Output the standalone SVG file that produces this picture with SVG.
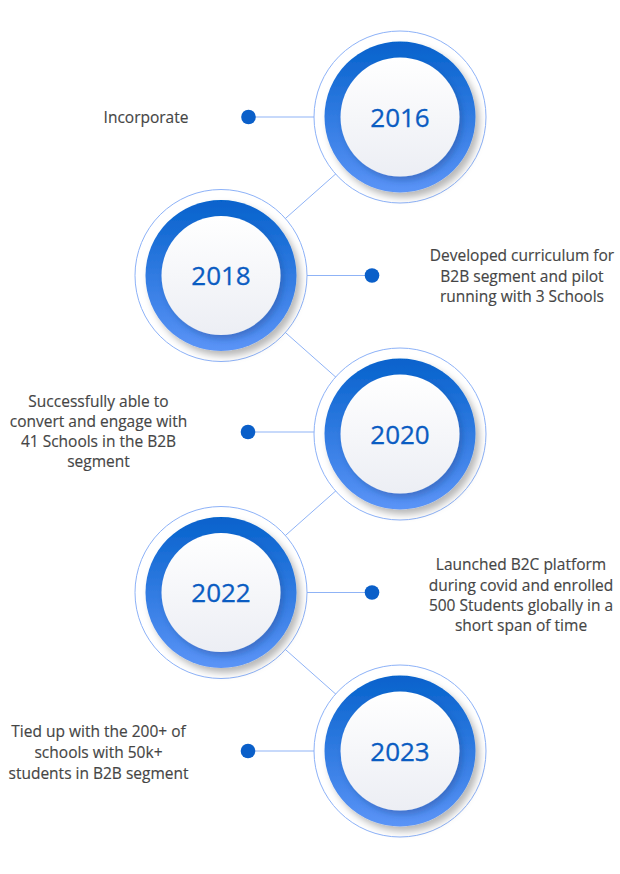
<svg xmlns="http://www.w3.org/2000/svg" width="620" height="874" viewBox="0 0 620 874">
<defs>
<linearGradient id="ring" x1="0" y1="0" x2="0" y2="1">
<stop offset="0" stop-color="#0662cc"/>
<stop offset="1" stop-color="#5b94f7"/>
</linearGradient>
<linearGradient id="face" x1="0" y1="0" x2="0" y2="1">
<stop offset="0" stop-color="#ffffff"/>
<stop offset="1" stop-color="#eceef4"/>
</linearGradient>
<filter id="sh" x="-20%" y="-20%" width="150%" height="150%">
<feDropShadow dx="4" dy="5" stdDeviation="3.5" flood-color="#000" flood-opacity="0.28"/>
</filter>
<filter id="sh2" x="-20%" y="-20%" width="150%" height="150%">
<feDropShadow dx="3" dy="4" stdDeviation="3" flood-color="#1a3a80" flood-opacity="0.35"/>
</filter>
</defs>
<style>
.con{stroke:#8fb3f6;stroke-width:1;fill:none}
.dot{fill:#0a5fc9}
.outer{fill:#fff;stroke:#8db2f8;stroke-width:1}
.ring{fill:url(#ring);filter:url(#sh)}
.face{fill:url(#face);filter:url(#sh2)}
.year{font-family:"Open Sans","Noto Sans",sans-serif;font-size:26px;fill:#0a5cc2;text-anchor:middle;stroke:#0a5cc2;stroke-width:0.3}
.desc{font-family:"Open Sans","Noto Sans",sans-serif;font-size:15.5px;fill:#454545;text-anchor:middle;stroke:#454545;stroke-width:0.15}
</style>
<rect width="620" height="874" fill="#fff"/>
<g id="connectors">
<line class="con" x1="400" y1="117" x2="221" y2="275.5"/>
<line class="con" x1="221" y1="275.5" x2="400" y2="434"/>
<line class="con" x1="400" y1="434" x2="221" y2="592.5"/>
<line class="con" x1="221" y1="592.5" x2="400" y2="751"/>
<line class="con" x1="248.5" y1="117" x2="400" y2="117"/>
<line class="con" x1="221" y1="275.5" x2="372" y2="275.5"/>
<line class="con" x1="248" y1="432" x2="400" y2="432"/>
<line class="con" x1="221" y1="592.5" x2="372" y2="592.5"/>
<line class="con" x1="248" y1="751" x2="400" y2="751"/>
</g>
<g id="n2016">
<circle class="outer" cx="400" cy="117" r="86"/>
<circle class="ring" cx="400" cy="117" r="75.5"/>
<circle class="face" cx="400" cy="117" r="59.5"/>
<text class="year" x="400" y="126.5">2016</text>
<circle class="dot" cx="248.5" cy="117" r="7.3"/>
<text class="desc" x="146" y="123">Incorporate</text>
</g>
<g id="n2018">
<circle class="outer" cx="221" cy="275.5" r="86"/>
<circle class="ring" cx="221" cy="275.5" r="75.5"/>
<circle class="face" cx="221" cy="275.5" r="59.5"/>
<text class="year" x="221" y="285">2018</text>
<circle class="dot" cx="372" cy="275.5" r="7.3"/>
<text class="desc" x="522" y="261">Developed curriculum for</text>
<text class="desc" x="522" y="281.5">B2B segment and pilot</text>
<text class="desc" x="522" y="302">running with 3 Schools</text>
</g>
<g id="n2020">
<circle class="outer" cx="400" cy="434" r="86"/>
<circle class="ring" cx="400" cy="434" r="75.5"/>
<circle class="face" cx="400" cy="434" r="59.5"/>
<text class="year" x="400" y="443.5">2020</text>
<circle class="dot" cx="248" cy="432" r="7.3"/>
<text class="desc" x="98.5" y="406.5">Successfully able to</text>
<text class="desc" x="98.5" y="426.5">convert and engage with</text>
<text class="desc" x="98.5" y="446.5">41 Schools in the B2B</text>
<text class="desc" x="98.5" y="466.5">segment</text>
</g>
<g id="n2022">
<circle class="outer" cx="221" cy="592.5" r="86"/>
<circle class="ring" cx="221" cy="592.5" r="75.5"/>
<circle class="face" cx="221" cy="592.5" r="59.5"/>
<text class="year" x="221" y="602">2022</text>
<circle class="dot" cx="372" cy="592.5" r="7.3"/>
<text class="desc" x="521" y="570">Launched B2C platform</text>
<text class="desc" x="521" y="590.5">during covid and enrolled</text>
<text class="desc" x="521" y="611">500 Students globally in a</text>
<text class="desc" x="521" y="631">short span of time</text>
</g>
<g id="n2023">
<circle class="outer" cx="400" cy="751" r="86"/>
<circle class="ring" cx="400" cy="751" r="75.5"/>
<circle class="face" cx="400" cy="751" r="59.5"/>
<text class="year" x="400" y="760.5">2023</text>
<circle class="dot" cx="248" cy="751" r="7.3"/>
<text class="desc" x="98.5" y="737">Tied up with the 200+ of</text>
<text class="desc" x="98.5" y="758">schools with 50k+</text>
<text class="desc" x="98.5" y="779">students in B2B segment</text>
</g>
</svg>
